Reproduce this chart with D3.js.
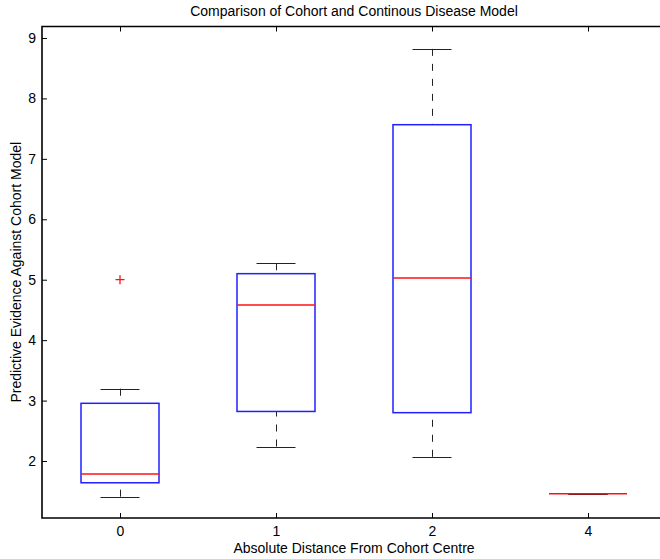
<!DOCTYPE html>
<html>
<head>
<meta charset="utf-8">
<script src="https://cdn.jsdelivr.net/npm/d3@7"></script>
<style>
  html, body { margin: 0; padding: 0; background: #fff; }
  svg { display: block; }
  text { font-family: "Liberation Sans", Arial, Helvetica, sans-serif; fill: #000; }
</style>
</head>
<body>
<div id="chart"></div>
<script>
// ---- data ----
const categories   = ["0", "1", "2", "4"];
const q1           = [1.64, 2.82, 2.80, 1.46];
const medians      = [1.785, 4.58, 5.03, 1.46];
const q3           = [2.955, 5.10, 7.565, 1.46];
const whiskerLow   = [1.41, 2.24, 2.07, 1.46];
const whiskerHigh  = [3.196, 5.272, 8.82, 1.46];
const outliers     = [[5.0], [], [], []];
const yTicks       = [2, 3, 4, 5, 6, 7, 8, 9];

const titleText  = "Comparison of Cohort and Continous Disease Model";
const xLabelText = "Absolute Distance From Cohort Centre";
const yLabelText = "Predictive Evidence Against Cohort Model";

(function () {
// ---- layout ----
const W = 660, H = 559;
const pLeft = 42, pRight = 666, pTop = 26.5, pBottom = 518;

const svg = d3.select("#chart").append("svg")
  .attr("width", W).attr("height", H);

const x = d3.scalePoint().domain(categories).range([pLeft, pRight]).padding(0.5);
const step = x.step();
const y = d3.scaleLinear().domain([1.057, 9.19]).range([pBottom, pTop]);

const boxHalf = step * 0.25;
const capHalf = step * 0.125;
const crisp = v => Math.round(v) + 0.5;

const g = svg.append("g");

// left axis (ticks inward)
const yAxis = d3.axisLeft(y).tickValues(yTicks).tickSizeInner(-5).tickSizeOuter(0).tickPadding(6)
  .tickFormat(d3.format("d"));
const ya = g.append("g").attr("transform", `translate(${pLeft},0)`).call(yAxis);
ya.select(".domain").remove();
ya.selectAll("text").attr("font-size", 14);
ya.selectAll("line").attr("stroke", "#000");

// bottom axis (ticks inward)
const xAxis = d3.axisBottom(x).tickSizeInner(-5).tickSizeOuter(0).tickPadding(8);
const xa = g.append("g").attr("transform", `translate(0,${pBottom})`).call(xAxis);
xa.select(".domain").remove();
xa.selectAll("text").attr("font-size", 14);
xa.selectAll("line").attr("stroke", "#000");

// top axis ticks (mirror)
const xTop = d3.axisTop(x).tickSizeInner(-5).tickSizeOuter(0).tickFormat("");
const xt = g.append("g").attr("transform", `translate(0,${pTop})`).call(xTop);
xt.select(".domain").remove();
xt.selectAll("line").attr("stroke", "#000");

// frame
svg.append("path")
  .attr("d", `M${pRight},${pTop}H${pLeft}V${pBottom}H${pRight}V${pTop}`)
  .attr("fill", "none").attr("stroke", "#000").attr("stroke-width", 1.6);

// ---- box plot ----
const data = categories.map((c, i) => ({
  c, q1: q1[i], med: medians[i], q3: q3[i], lo: whiskerLow[i], hi: whiskerHigh[i], out: outliers[i]
}));

const boxes = svg.append("g").selectAll("g").data(data).join("g");

// whiskers (dashed)
boxes.append("line")
  .attr("x1", d => crisp(x(d.c))).attr("x2", d => crisp(x(d.c)))
  .attr("y1", d => y(d.hi)).attr("y2", d => y(d.q3))
  .attr("stroke", "#222").attr("stroke-dasharray", "7,8");
boxes.append("line")
  .attr("x1", d => crisp(x(d.c))).attr("x2", d => crisp(x(d.c)))
  .attr("y1", d => y(d.lo)).attr("y2", d => y(d.q1))
  .attr("stroke", "#222").attr("stroke-dasharray", "7,8");

// caps
boxes.append("line")
  .attr("x1", d => x(d.c) - capHalf).attr("x2", d => x(d.c) + capHalf)
  .attr("y1", d => crisp(y(d.hi))).attr("y2", d => crisp(y(d.hi)))
  .attr("stroke", "#222");
boxes.append("line")
  .attr("x1", d => x(d.c) - capHalf).attr("x2", d => x(d.c) + capHalf)
  .attr("y1", d => crisp(y(d.lo))).attr("y2", d => crisp(y(d.lo)))
  .attr("stroke", "#222");

// box
boxes.append("rect")
  .attr("x", d => x(d.c) - boxHalf)
  .attr("width", d => 2 * boxHalf)
  .attr("y", d => y(d.q3))
  .attr("height", d => Math.max(0, y(d.q1) - y(d.q3)))
  .attr("fill", "none").attr("stroke", "#2020ff").attr("stroke-width", 1.5);

// median
boxes.append("line")
  .attr("x1", d => x(d.c) - boxHalf).attr("x2", d => x(d.c) + boxHalf)
  .attr("y1", d => y(d.med)).attr("y2", d => y(d.med))
  .attr("stroke", "#ff1010").attr("stroke-width", 1.5);

// outliers (+)
boxes.selectAll("path.out").data(d => d.out.map(v => ({c: d.c, v})))
  .join("path").attr("class", "out")
  .attr("d", o => {
    const cx = x(o.c), cy = y(o.v), s = 4.5;
    return `M${cx - s},${cy}H${cx + s}M${cx},${cy - s}V${cy + s}`;
  })
  .attr("stroke", "#ff1010").attr("stroke-width", 1.3).attr("fill", "none");

// ---- titles ----
const cxPlot = (pLeft + pRight) / 2;
svg.append("text").attr("x", cxPlot).attr("y", 16)
  .attr("text-anchor", "middle").attr("font-size", 14).text(titleText);
svg.append("text").attr("x", cxPlot).attr("y", 553)
  .attr("text-anchor", "middle").attr("font-size", 14).text(xLabelText);
svg.append("text")
  .attr("transform", `translate(21,${(pTop + pBottom) / 2}) rotate(-90)`)
  .attr("text-anchor", "middle").attr("font-size", 14).text(yLabelText);
})();
</script>
</body>
</html>
